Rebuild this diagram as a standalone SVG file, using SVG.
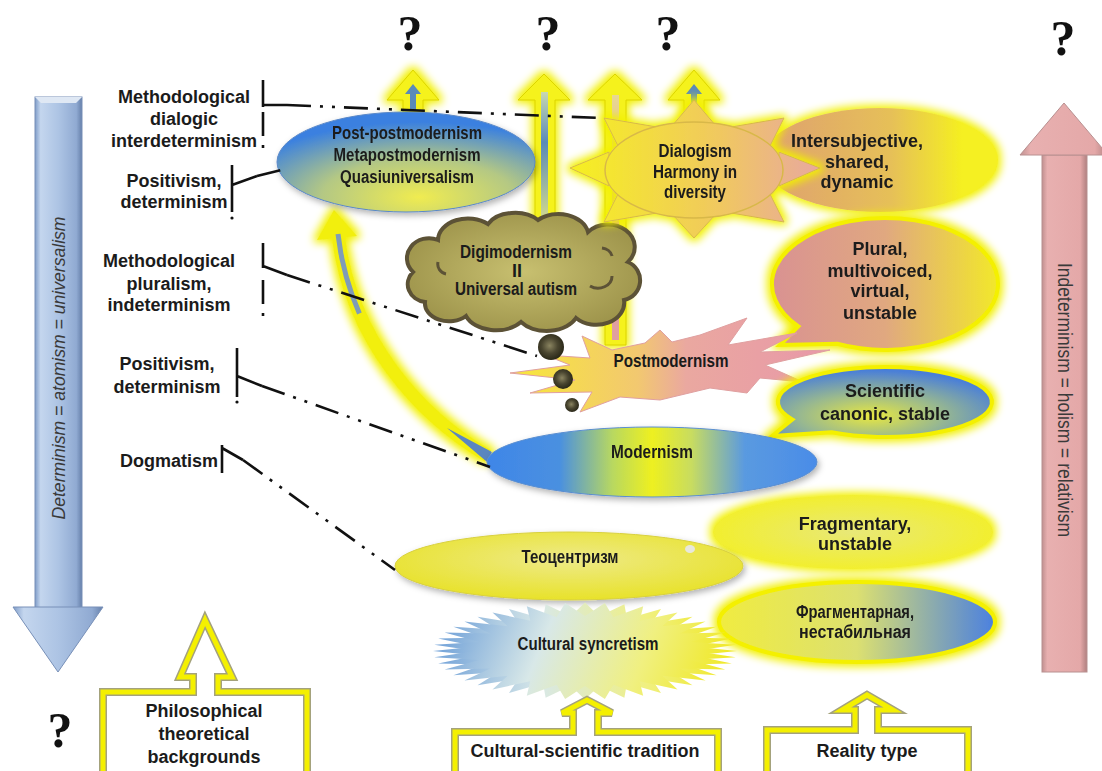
<svg xmlns="http://www.w3.org/2000/svg" width="1102" height="771" viewBox="0 0 1102 771">
<defs>
<style>
.lab{font-family:"Liberation Sans",Arial,sans-serif;font-weight:bold;font-size:18px;fill:#1b1b1b;text-anchor:middle}
.nar{font-family:"Liberation Sans",Arial,sans-serif;font-weight:bold;font-size:18px;fill:#1b1b1b;text-anchor:middle}
.q{font-family:"Liberation Serif","Times New Roman",serif;font-weight:bold;font-size:50px;fill:#111;text-anchor:middle}
.dd{fill:none;stroke:#111;stroke-width:2.6;stroke-dasharray:24 9 3 9 3 9}
.br{fill:none;stroke:#111;stroke-width:2.6}
.ya{fill:#f5f21a;stroke:#dcd400;stroke-width:1}
.boxe{fill:#fff;stroke:#a4a27c;stroke-width:8}
.boxy{fill:none;stroke:#f4f000;stroke-width:5}
.bub{stroke:#f4f000;stroke-width:4}
</style>
<filter id="glow" x="-25%" y="-40%" width="150%" height="180%">
<feMorphology in="SourceAlpha" operator="dilate" radius="3" result="d"/>
<feGaussianBlur in="d" stdDeviation="4" result="b"/>
<feFlood flood-color="#f2f000" result="f"/>
<feComposite in="f" in2="b" operator="in" result="g"/>
<feMerge><feMergeNode in="g"/><feMergeNode in="SourceGraphic"/></feMerge>
</filter>
<filter id="sh" x="-10%" y="-20%" width="120%" height="150%">
<feDropShadow dx="2" dy="3" stdDeviation="3" flood-color="#000" flood-opacity="0.3"/>
</filter>
<linearGradient id="gBlueArr" x1="0" y1="0" x2="1" y2="0">
<stop offset="0" stop-color="#7f9cc8"/><stop offset="0.12" stop-color="#c4d6ee"/><stop offset="0.5" stop-color="#adc4e4"/><stop offset="0.88" stop-color="#90aad2"/><stop offset="1" stop-color="#6680aa"/>
</linearGradient>
<linearGradient id="gPinkArr" x1="0" y1="0" x2="1" y2="0">
<stop offset="0" stop-color="#c09090"/><stop offset="0.12" stop-color="#e8b0b0"/><stop offset="0.85" stop-color="#e4a8a8"/><stop offset="1" stop-color="#b08080"/>
</linearGradient>
<radialGradient id="gPP" cx="0.55" cy="0.85" r="0.75">
<stop offset="0" stop-color="#f0ec50"/><stop offset="0.5" stop-color="#b4c884"/><stop offset="1" stop-color="#3a80e0"/>
</radialGradient>
<linearGradient id="gMod" x1="0" y1="0" x2="1" y2="0">
<stop offset="0" stop-color="#3f86e8"/><stop offset="0.22" stop-color="#4a90e0"/><stop offset="0.38" stop-color="#b8d860"/><stop offset="0.5" stop-color="#eef020"/><stop offset="0.62" stop-color="#c8dc60"/><stop offset="0.78" stop-color="#5a9ae0"/><stop offset="1" stop-color="#4a8ce8"/>
</linearGradient>
<radialGradient id="gSci" cx="0.45" cy="0.7" r="0.65">
<stop offset="0" stop-color="#e8e840"/><stop offset="0.5" stop-color="#98b890"/><stop offset="1" stop-color="#4a7fd8"/>
</radialGradient>
<linearGradient id="gInter" x1="0" y1="0" x2="1" y2="0">
<stop offset="0" stop-color="#dea070"/><stop offset="0.55" stop-color="#e6c058"/><stop offset="0.85" stop-color="#f5f020"/><stop offset="1" stop-color="#f5f020"/>
</linearGradient>
<linearGradient id="gPlural" x1="0" y1="0" x2="1" y2="0">
<stop offset="0" stop-color="#d99292"/><stop offset="0.5" stop-color="#e0a880"/><stop offset="1" stop-color="#f2e82a"/>
</linearGradient>
<radialGradient id="gFrag" cx="0.5" cy="0.5" r="0.6">
<stop offset="0" stop-color="#e8e878"/><stop offset="1" stop-color="#f4f020"/>
</radialGradient>
<linearGradient id="gFragRu" x1="0" y1="0" x2="1" y2="0">
<stop offset="0" stop-color="#f0ec40"/><stop offset="0.5" stop-color="#dce070"/><stop offset="1" stop-color="#4a80e0"/>
</linearGradient>
<radialGradient id="gTeo" cx="0.5" cy="0.4" r="0.6">
<stop offset="0" stop-color="#eeea88"/><stop offset="1" stop-color="#e8e22a"/>
</radialGradient>
<linearGradient id="gPM" gradientUnits="userSpaceOnUse" x1="510" y1="0" x2="830" y2="0">
<stop offset="0" stop-color="#f8e838"/><stop offset="0.4" stop-color="#f2c870"/><stop offset="0.55" stop-color="#eaa8a0"/><stop offset="1" stop-color="#e898a8"/>
</linearGradient>
<linearGradient id="gCS" x1="0" y1="0" x2="1" y2="0">
<stop offset="0" stop-color="#6fa0d8"/><stop offset="0.35" stop-color="#d8e8e8"/><stop offset="0.7" stop-color="#f0f080"/><stop offset="1" stop-color="#f0e820"/>
</linearGradient>
<radialGradient id="gCloud" cx="0.5" cy="0.5" r="0.6">
<stop offset="0" stop-color="#c8c070"/><stop offset="1" stop-color="#9a9048"/>
</radialGradient>
<radialGradient id="gBall" cx="0.45" cy="0.45" r="0.55">
<stop offset="0" stop-color="#8a8460"/><stop offset="0.55" stop-color="#4a4630"/><stop offset="1" stop-color="#2a2818"/>
</radialGradient>
<linearGradient id="gSun" gradientUnits="userSpaceOnUse" x1="570" y1="0" x2="820" y2="0">
<stop offset="0" stop-color="#f6f020"/><stop offset="0.6" stop-color="#f0c860"/><stop offset="1" stop-color="#e8a8a0"/>
</linearGradient>
<linearGradient id="gStripeB" x1="0" y1="0" x2="0" y2="1">
<stop offset="0" stop-color="#c8d8b0"/><stop offset="0.4" stop-color="#5a8ab8"/><stop offset="1" stop-color="#d0d890"/>
</linearGradient>
<linearGradient id="gStripeP" x1="0" y1="0" x2="0" y2="1">
<stop offset="0" stop-color="#e8d890"/><stop offset="0.5" stop-color="#e0a0a0"/><stop offset="1" stop-color="#e0a0a0"/>
</linearGradient>
</defs>

<rect width="1102" height="771" fill="#fff"/>

<!-- side arrows -->
<g id="left-axis">
<rect x="35" y="97" width="47" height="512" fill="url(#gBlueArr)" stroke="#7890b8" stroke-width="1"/>
<polygon points="35,97 82,97 76,103 41,103" fill="#dfe8f4"/>
<polygon points="13,607 103,607 58,672" fill="url(#gBlueArr)" stroke="#7890b8" stroke-width="1"/>
<text x="58" y="368" dy="7" transform="rotate(-90 58 368)" font-family="Liberation Sans, Arial, sans-serif" font-style="italic" font-size="19" fill="#3a3a3a" text-anchor="middle" textLength="303" lengthAdjust="spacingAndGlyphs">Determinism = atomism = universalism</text>
</g>
<g id="right-axis">
<rect x="1042" y="155" width="45" height="517" fill="url(#gPinkArr)" stroke="#b89090" stroke-width="1"/>
<polygon points="1020,155 1108,155 1064,103" fill="url(#gPinkArr)" stroke="#b89090" stroke-width="1"/>
<text x="1065" y="400" dy="7" transform="rotate(90 1065 400)" font-family="Liberation Sans, Arial, sans-serif" font-size="20" fill="#3a3a3a" text-anchor="middle" textLength="274" lengthAdjust="spacingAndGlyphs">Indeterminism = holism = relativism</text>
</g>

<!-- question marks -->
<g id="questions">
<text class="q" x="410" y="50">?</text>
<text class="q" x="548" y="50">?</text>
<text class="q" x="668" y="50">?</text>
<text class="q" x="1063" y="55">?</text>
<text class="q" x="60" y="747">?</text>
</g>

<!-- left labels -->
<g id="lbl-dialogic">
<text class="lab" x="184" y="103">Methodological</text>
<text class="lab" x="184" y="125">dialogic</text>
<text class="lab" x="184" y="147">interdeterminism</text>
</g>
<g id="lbl-positivism1">
<text class="lab" x="174" y="187">Positivism,</text>
<text class="lab" x="174" y="208">determinism</text>
</g>
<g id="lbl-pluralism">
<text class="lab" x="169" y="267">Methodological</text>
<text class="lab" x="169" y="290">pluralism,</text>
<text class="lab" x="169" y="311">indeterminism</text>
</g>
<g id="lbl-positivism2">
<text class="lab" x="167" y="370">Positivism,</text>
<text class="lab" x="167" y="393">determinism</text>
</g>
<g id="lbl-dogmatism">
<text class="lab" x="169" y="467">Dogmatism</text>
</g>

<!-- right reality bubbles -->
<g id="intersubjective" filter="url(#glow)">
<ellipse cx="880" cy="160" rx="118" ry="52" fill="url(#gInter)"/>
<text class="lab" x="857" y="147">Intersubjective,</text>
<text class="lab" x="857" y="168">shared,</text>
<text class="lab" x="857" y="188">dynamic</text>
</g>

<!-- top arrows -->
<g id="arrow-a" filter="url(#glow)">
<polygon class="ya" points="413,70 439,100 423,100 423,114 403,114 403,100 387,100"/>
<polygon points="413,84 421,94 416,94 416,110 410,110 410,94 405,94" fill="#5a8ab8"/>
</g>
<g id="arrow-b" filter="url(#glow)">
<polygon class="ya" points="544,74 570,100 555,100 555,222 535,222 535,100 518,100"/>
<rect x="541" y="92" width="7" height="126" fill="url(#gStripeB)"/>
</g>
<g id="arrow-c" filter="url(#glow)">
<polygon class="ya" points="615,74 642,100 626,100 626,345 605,345 605,100 588,100"/>
<rect x="612" y="95" width="7" height="245" fill="url(#gStripeP)"/>
</g>
<g id="arrow-d" filter="url(#glow)">
<polygon class="ya" points="694,70 720,100 704,100 704,124 684,124 684,100 668,100"/>
<polygon points="694,84 702,94 697,94 697,112 691,112 691,94 686,94" fill="#5a8ab8"/>
</g>

<!-- curved arrow -->
<g id="curved-arrow" filter="url(#glow)">
<path d="M488,456 C420,416 350,340 338,234" fill="none" stroke="#f2ef10" stroke-width="13"/>
<polygon points="334,210 317,240 357,236" fill="#f2ef10"/>
<path d="M488,456 C420,416 350,340 338,234" fill="none" stroke="#7f9cb8" stroke-width="5" stroke-dasharray="0 195 120"/>
<polygon points="447,428 492,452 487,462" fill="#5a86c0"/>
</g>

<!-- post-postmodernism -->
<g id="postpostmodernism" filter="url(#sh)">
<ellipse cx="406" cy="162" rx="129" ry="50" fill="url(#gPP)" stroke="#5a88c8" stroke-width="1"/>
<text class="nar" x="407" y="139" textLength="150" lengthAdjust="spacingAndGlyphs">Post-postmodernism</text>
<text class="nar" x="407" y="161" textLength="147" lengthAdjust="spacingAndGlyphs">Metapostmodernism</text>
<text class="nar" x="407" y="183" textLength="134" lengthAdjust="spacingAndGlyphs">Quasiuniversalism</text>
</g>

<!-- digimodernism cloud -->
<g id="digimodernism">
<path d="M425,302 a20,18 0 0 1 -12,-30 a22,20 0 0 1 25,-32 a30,22 0 0 1 50,-16 a30,20 0 0 1 50,-4 a30,22 0 0 1 50,12 a26,22 0 0 1 40,30 a20,20 0 0 1 -4,38 a28,22 0 0 1 -48,18 a32,22 0 0 1 -55,4 a32,22 0 0 1 -55,-6 a24,18 0 0 1 -41,-14 Z" fill="url(#gCloud)" stroke="#5c5236" stroke-width="4"/>
<path d="M590,286 a14,12 0 0 0 22,-10 M602,248 a12,10 0 0 1 10,8 M438,262 a10,10 0 0 0 8,12" fill="none" stroke="#5c5236" stroke-width="3"/>
<text class="nar" x="516" y="258" textLength="112" lengthAdjust="spacingAndGlyphs">Digimodernism</text>
<text class="nar" x="517" y="277">II</text>
<text class="nar" x="516" y="295" textLength="122" lengthAdjust="spacingAndGlyphs">Universal autism</text>
</g>

<!-- dialogism sun -->
<g id="dialogism" filter="url(#glow)">
<g fill="url(#gSun)" stroke="#d8b848" stroke-width="1">
<polygon points="570,168 609,152 609,186"/>
<polygon points="820,168 779,152 779,186"/>
<polygon points="694,100 672,126 716,126"/>
<polygon points="694,238 672,214 716,214"/>
<polygon points="604,118 618,146 657,127"/>
<polygon points="784,118 770,146 731,127"/>
<polygon points="604,222 618,194 657,213"/>
<polygon points="784,222 770,194 731,213"/>
</g>
<ellipse cx="694" cy="170" rx="89" ry="48" fill="url(#gSun)" stroke="#d8b848" stroke-width="1.5"/>
<text class="nar" x="695" y="157" textLength="73" lengthAdjust="spacingAndGlyphs">Dialogism</text>
<text class="nar" x="695" y="178" textLength="84" lengthAdjust="spacingAndGlyphs">Harmony in</text>
<text class="nar" x="695" y="198" textLength="62" lengthAdjust="spacingAndGlyphs">diversity</text>
</g>

<!-- plural bubble -->
<g id="plural" filter="url(#glow)">
<path class="bub" d="M798.4,326.4 A113,66 0 1 1 837.2,343.8 L780,345 Z" fill="url(#gPlural)"/>
<text class="lab" x="880" y="255">Plural,</text>
<text class="lab" x="880" y="277">multivoiced,</text>
<text class="lab" x="880" y="297">virtual,</text>
<text class="lab" x="880" y="319">unstable</text>
</g>

<!-- postmodernism -->
<g id="postmodernism">
<polygon points="582,336 612,350 645,343 660,330 672,342 700,335 747,318 728,345 797,333 760,352 830,350 765,365 803,382 760,378 747,393 710,388 660,400 620,397 580,412 592,392 530,393 575,380 510,373 570,365 545,355 590,358" fill="url(#gPM)" stroke="#e0a0a0" stroke-width="1"/>
<circle cx="551" cy="347" r="13" fill="url(#gBall)"/>
<circle cx="563" cy="379" r="10" fill="url(#gBall)"/>
<circle cx="572" cy="405" r="7" fill="url(#gBall)"/>
<text class="nar" x="671" y="367" textLength="115" lengthAdjust="spacingAndGlyphs">Postmodernism</text>
</g>

<!-- scientific bubble -->
<g id="scientific" filter="url(#glow)">
<path class="bub" d="M792.3,419.5 A107,35 0 1 1 831.5,432.3 L772,436 Z" fill="url(#gSci)"/>
<text class="lab" x="885" y="397">Scientific</text>
<text class="lab" x="885" y="420">canonic, stable</text>
</g>

<!-- modernism -->
<g id="modernism" filter="url(#sh)">
<ellipse cx="652" cy="462" rx="165" ry="35" fill="url(#gMod)" stroke="#5a8ed0" stroke-width="1"/>
<text class="nar" x="652" y="458" textLength="82" lengthAdjust="spacingAndGlyphs">Modernism</text>
</g>

<!-- fragmentary bubble -->
<g id="fragmentary" filter="url(#glow)">
<ellipse cx="853" cy="532" rx="140" ry="37" fill="url(#gFrag)"/>
<text class="lab" x="855" y="530">Fragmentary,</text>
<text class="lab" x="855" y="550">unstable</text>
</g>

<!-- teocentrism -->
<g id="teocentrism" filter="url(#sh)">
<ellipse cx="569" cy="566" rx="174" ry="34" fill="url(#gTeo)" stroke="#d8d040" stroke-width="1"/>
<ellipse cx="690" cy="549" rx="5" ry="4" fill="#e8e8dc"/>
<text class="nar" x="570" y="563" textLength="97" lengthAdjust="spacingAndGlyphs">Теоцентризм</text>
</g>

<!-- fragmentarnaya bubble -->
<g id="fragmentarnaya" filter="url(#glow)">
<ellipse class="bub" cx="857" cy="622" rx="138" ry="40" fill="url(#gFragRu)"/>
<text class="nar" x="855" y="618" font-size="17" textLength="118" lengthAdjust="spacingAndGlyphs">Фрагментарная,</text>
<text class="nar" x="855" y="638" font-size="17" textLength="112" lengthAdjust="spacingAndGlyphs">нестабильная</text>
</g>

<!-- cultural syncretism -->
<g id="syncretism">
<polygon transform="translate(585,651) scale(1.52,0.485)" fill="url(#gCS)" points="100,0 71.4,9.4 96.6,25.9 66.5,27.6 86.6,50 57.1,43.8 70.7,70.7 43.8,57.1 50,86.6 27.6,66.5 25.9,96.6 9.4,71.4 0,100 -9.4,71.4 -25.9,96.6 -27.6,66.5 -50,86.6 -43.8,57.1 -70.7,70.7 -57.1,43.8 -86.6,50 -66.5,27.6 -96.6,25.9 -71.4,9.4 -100,0 -71.4,-9.4 -96.6,-25.9 -66.5,-27.6 -86.6,-50 -57.1,-43.8 -70.7,-70.7 -43.8,-57.1 -50,-86.6 -27.6,-66.5 -25.9,-96.6 -9.4,-71.4 0,-100 9.4,-71.4 25.9,-96.6 27.6,-66.5 50,-86.6 43.8,-57.1 70.7,-70.7 57.1,-43.8 86.6,-50 66.5,-27.6 96.6,-25.9 71.4,-9.4"/>
<polygon transform="translate(585,651) scale(1.52,0.485) rotate(7.5)" fill="url(#gCS)" points="100,0 71.4,9.4 96.6,25.9 66.5,27.6 86.6,50 57.1,43.8 70.7,70.7 43.8,57.1 50,86.6 27.6,66.5 25.9,96.6 9.4,71.4 0,100 -9.4,71.4 -25.9,96.6 -27.6,66.5 -50,86.6 -43.8,57.1 -70.7,70.7 -57.1,43.8 -86.6,50 -66.5,27.6 -96.6,25.9 -71.4,9.4 -100,0 -71.4,-9.4 -96.6,-25.9 -66.5,-27.6 -86.6,-50 -57.1,-43.8 -70.7,-70.7 -43.8,-57.1 -50,-86.6 -27.6,-66.5 -25.9,-96.6 -9.4,-71.4 0,-100 9.4,-71.4 25.9,-96.6 27.6,-66.5 50,-86.6 43.8,-57.1 70.7,-70.7 57.1,-43.8 86.6,-50 66.5,-27.6 96.6,-25.9 71.4,-9.4"/>
<text class="nar" x="588" y="650" textLength="141" lengthAdjust="spacingAndGlyphs">Cultural syncretism</text>
</g>

<!-- bottom boxes -->
<g id="box-philosophical">
<path class="boxe" d="M103,692 L193,692 L193,677 L180,677 L205,620 L232,677 L218,677 L218,692 L307,692 L307,780 L103,780 Z"/>
<path class="boxy" d="M103,692 L193,692 L193,677 L180,677 L205,620 L232,677 L218,677 L218,692 L307,692 L307,780 L103,780 Z"/>
<text class="lab" x="204" y="717">Philosophical</text>
<text class="lab" x="204" y="740">theoretical</text>
<text class="lab" x="204" y="763">backgrounds</text>
</g>
<g id="box-cultural">
<path class="boxe" d="M455,732 L573,732 L573,713 L562,713 L587,700 L612,713 L598,713 L598,732 L718,732 L718,780 L455,780 Z"/>
<path class="boxy" d="M455,732 L573,732 L573,713 L562,713 L587,700 L612,713 L598,713 L598,732 L718,732 L718,780 L455,780 Z"/>
<text class="lab" x="585" y="757">Cultural-scientific tradition</text>
</g>
<g id="box-reality">
<path class="boxe" d="M767,730 L855,730 L855,710 L842,710 L867,695 L893,710 L878,710 L878,730 L968,730 L968,780 L767,780 Z"/>
<path class="boxy" d="M767,730 L855,730 L855,710 L842,710 L867,695 L893,710 L878,710 L878,730 L968,730 L968,780 L767,780 Z"/>
<text class="lab" x="867" y="757">Reality type</text>
</g>

<!-- connectors -->
<g id="connectors">
<path class="br" d="M263,80 L263,107 M263,105 L287,105"/>
<path class="dd" d="M287,105 L600,118"/>
<path class="dd" d="M263,112 L263,156"/>
<path class="br" d="M232,165 L232,212 M232,185 L257,176"/>
<path class="dd" d="M257,176 L281,170"/>
<circle cx="232" cy="218" r="1.6" fill="#111"/>
<path class="br" d="M263,243 L263,268 M263,266 L287,275"/>
<path class="dd" d="M287,275 L537,356"/>
<path class="dd" d="M263,280 L263,322"/>
<path class="br" d="M237,348 L237,397 M237,376 L262,386"/>
<path class="dd" d="M262,386 L490,467"/>
<circle cx="237" cy="402" r="1.6" fill="#111"/>
<path class="br" d="M222,445 L222,473 M222,448 L243,460"/>
<path class="dd" d="M243,460 L395,570"/>
</g>
</svg>
